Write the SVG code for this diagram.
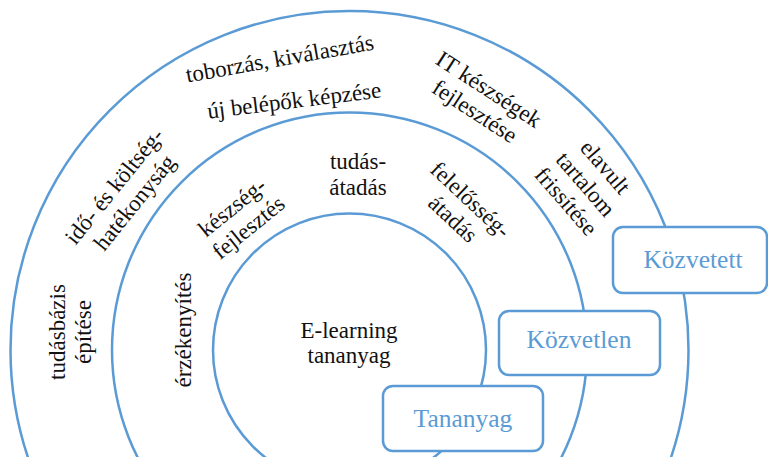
<svg xmlns="http://www.w3.org/2000/svg" width="768" height="457" viewBox="0 0 768 457">
<style>
.ring{fill:none;stroke:#5B9BD5;stroke-width:2.5}
.lbl{font-family:"Liberation Serif","Times New Roman",serif;font-size:23px;fill:#111;text-anchor:middle}
.box{fill:#fff;stroke:#5B9BD5;stroke-width:2.5}
.btxt{font-family:"Liberation Serif","Times New Roman",serif;font-size:25.5px;fill:#5B9BD5;text-anchor:middle}
</style>
<rect width="768" height="457" fill="#fff"/>
<g id="rings">
<circle id="ring-outer" class="ring" cx="349.5" cy="350" r="339"/>
<circle id="ring-middle" class="ring" cx="349.5" cy="350" r="237.5"/>
<circle id="ring-inner" class="ring" cx="349.5" cy="350" r="136.5"/>
</g>
<g id="labels">
<g id="l-toborzas"><text class="lbl" transform="translate(281,66) rotate(-10)">toborzás, kiválasztás</text></g>
<g id="l-uj"><text class="lbl" transform="translate(295,108) rotate(-7)">új belépők képzése</text></g>
<g id="l-ido" transform="translate(124,194) rotate(-51)"><text class="lbl" y="-5">idő- és költség-</text><text class="lbl" y="21">hatékonyság</text></g>
<g id="l-tudasbazis" transform="translate(70,332) rotate(-90)"><text class="lbl" y="-5">tudásbázis</text><text class="lbl" y="21">építése</text></g>
<g id="l-erzek"><text class="lbl" transform="translate(183,330) rotate(-90)" y="8">érzékenyítés</text></g>
<g id="l-keszseg" transform="translate(240,217) rotate(-39)"><text class="lbl" y="-5">készség-</text><text class="lbl" y="21">fejlesztés</text></g>
<g id="l-tudas" transform="translate(358,182)"><text class="lbl" y="-13">tudás-</text><text class="lbl" y="13">átadás</text></g>
<g id="l-felelosseg" transform="translate(462,209) rotate(43)"><text class="lbl" y="-5">felelősség-</text><text class="lbl" y="21">átadás</text></g>
<g id="l-it" transform="translate(482,100) rotate(33)"><text class="lbl" y="-5">IT készségek</text><text class="lbl" y="21">fejlesztése</text></g>
<g id="l-elavult" transform="translate(586,184) rotate(49)"><text class="lbl" y="-18">elavult</text><text class="lbl" y="8">tartalom</text><text class="lbl" y="34">frissítése</text></g>
<g id="l-center" transform="translate(349,350)"><text class="lbl" y="-12">E-learning</text><text class="lbl" y="13">tananyag</text></g>
</g>
<g id="node-kozvetett"><rect class="box" x="613" y="227" width="154" height="66" rx="10"/><text class="btxt" x="693" y="268">Közvetett</text></g>
<g id="node-kozvetlen"><rect class="box" x="499" y="311" width="161" height="64" rx="10"/><text class="btxt" x="579" y="348">Közvetlen</text></g>
<g id="node-tananyag"><rect class="box" x="383" y="386" width="160" height="65" rx="10"/><text class="btxt" x="463" y="427">Tananyag</text></g>
<g id="connectors"/>
</svg>
